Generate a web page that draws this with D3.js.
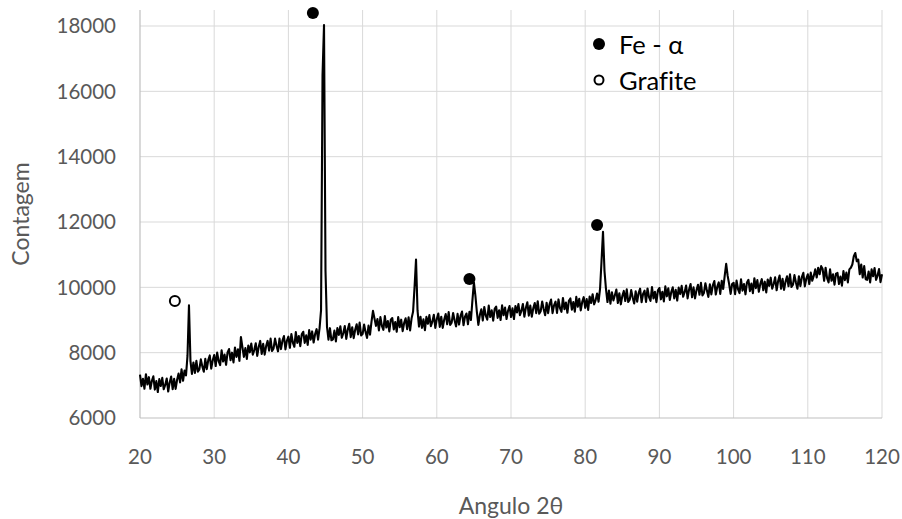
<!DOCTYPE html>
<html>
<head>
<meta charset="utf-8">
<script src="https://cdn.jsdelivr.net/npm/d3@7"></script>
<style>
  html, body { margin: 0; padding: 0; background: #fff; }
  svg { display: block; font-family: Lato, "Open Sans", sans-serif; font-variant-ligatures: none; }
</style>
</head>
<body>
<svg id="chart" width="902" height="519"></svg>
<script>
// ---- data ----
const angleStart = 20;
const angleStep = 0.2;
const counts = [
  7330, 6975, 7200, 6895, 7340, 7025, 7250, 6895, 7140, 7275,
  6870, 7130, 6795, 7190, 6980, 7230, 6880, 7010, 7210, 6810,
  7090, 7270, 6880, 7200, 6890, 7170, 7360, 7090, 7490, 7140,
  7450, 7300, 7900, 9450, 7750, 7350, 7700, 7380, 7750, 7420,
  7490, 7795, 7580, 7415, 7810, 7495, 7770, 7915, 7510, 7765,
  7930, 7590, 8000, 7740, 7620, 8070, 7730, 7940, 7630, 8010,
  8110, 7770, 8000, 7700, 8160, 7870, 8100, 7750, 8480, 8170,
  7870, 8140, 7810, 8220, 8010, 8280, 7940, 8080, 8290, 7900,
  8180, 8360, 7960, 8270, 7940, 8200, 8360, 8060, 8430, 8050,
  8130, 8430, 8210, 8040, 8430, 8110, 8370, 8510, 8100, 8370,
  8490, 8150, 8570, 8310, 8180, 8630, 8300, 8510, 8200, 8560,
  8640, 8300, 8530, 8240, 8690, 8400, 8650, 8310, 8570, 8720,
  8400, 8750, 9300, 16500, 18030, 10500, 8800, 8400, 8750, 8380,
  8410, 8675, 8345, 8750, 8545, 8810, 8455, 8600, 8815, 8420,
  8710, 8885, 8475, 8780, 8445, 8700, 8870, 8560, 8920, 8530,
  8570, 8860, 8630, 8450, 8830, 8550, 8950, 9280, 9050, 8820,
  9030, 8680, 9090, 8820, 8700, 9120, 8770, 8970, 8650, 9010,
  9060, 8710, 8940, 8640, 9090, 8780, 9010, 8660, 8910, 9050,
  8720, 9080, 8680, 9050, 9250, 10000, 10850, 9300, 8800, 9100,
  8760, 9020, 8690, 9095, 8885, 9150, 8810, 8950, 9160, 8760,
  9030, 9200, 8790, 9100, 8760, 9015, 9180, 8870, 9240, 8850,
  8920, 9215, 8985, 8805, 9190, 8860, 9125, 9260, 8840, 9100,
  9200, 8870, 9250, 9000, 9600, 10150, 9750, 9250, 8850, 9150,
  9330, 8985, 9400, 9130, 9010, 9440, 9090, 9295, 8980, 9340,
  9410, 9065, 9300, 9000, 9450, 9145, 9380, 9030, 9285, 9430,
  9090, 9355, 9030, 9430, 9230, 9485, 9150, 9280, 9490, 9100,
  9370, 9545, 9135, 9440, 9100, 9355, 9520, 9210, 9575, 9190,
  9270, 9565, 9340, 9145, 9530, 9210, 9490, 9625, 9210, 9450,
  9560, 9215, 9630, 9365, 9250, 9675, 9330, 9535, 9220, 9585,
  9660, 9315, 9550, 9255, 9710, 9405, 9650, 9295, 9555, 9700,
  9370, 9640, 9310, 9720, 9520, 9790, 9480, 9600, 9810, 9560,
  9950, 10800, 11700, 10500, 9950, 9550, 9900, 9500, 9850, 9600,
  9760, 9930, 9520, 9820, 9480, 9730, 9890, 9580, 9940, 9550,
  9620, 9915, 9690, 9505, 9880, 9560, 9825, 9960, 9545, 9795,
  9900, 9553, 9966, 9700, 9583, 10006, 9660, 9863, 9546, 9910,
  9980, 9633, 9866, 9570, 10030, 9725, 9970, 9613, 9856, 10000,
  9660, 9923, 9596, 9990, 9793, 10046, 9710, 9853, 10056, 9660,
  9930, 10103, 9696, 10000, 9663, 9915, 10080, 9773, 10136, 9750,
  9830, 10125, 9900, 9705, 10090, 9785, 10060, 10195, 9780, 10020,
  10150, 9800, 10200, 9950, 10350, 10720, 10350, 10100, 9800, 10100,
  10140, 9793, 10206, 9940, 9823, 10246, 9900, 10103, 9786, 10150,
  10230, 9883, 10116, 9820, 10280, 9975, 10220, 9863, 10106, 10250,
  9910, 10173, 9846, 10240, 10043, 10296, 9960, 10103, 10306, 9910,
  10190, 10363, 9956, 10260, 9923, 10175, 10340, 10033, 10396, 10010,
  10080, 10375, 10150, 9955, 10340, 10035, 10310, 10445, 10030, 10270,
  10400, 10100, 10450, 10200, 10350, 10550, 10300, 10600, 10400, 10650,
  10560, 10200, 10600, 10280, 10150, 10550, 10200, 10400, 10080, 10420,
  10440, 10100, 10330, 10050, 10500, 10220, 10450, 10150, 10550, 10600,
  10700, 10950, 11050, 10800, 10850, 10400, 10700, 10300, 10650, 10250,
  10230, 10485, 10150, 10550, 10340, 10590, 10230, 10360, 10560, 10160,
  10400
];
const xTicks = [20, 30, 40, 50, 60, 70, 80, 90, 100, 110, 120];
const yTicks = [6000, 8000, 10000, 12000, 14000, 16000, 18000];
// phase annotation markers [angle, count]
const feMarkers = [[43.3, 18400], [64.4, 10255], [81.6, 11907]];
const grafiteMarkers = [[24.7, 9580]];
const legendItems = ["Fe - α", "Grafite"];
const xTitle = "Angulo 2θ";
const yTitle = "Contagem";

// ---- drawing ----
const svg = d3.select("#chart");
const L = 140, R = 882, T = 10;
const x = d3.scaleLinear().domain([20, 120]).range([L, R]);
const y = d3.scaleLinear().domain([6000, 18000]).range([418, 26]);
const B = y(6000);

const data = counts.map((c, i) => [angleStart + i * angleStep, c]);

// gridlines
const g = svg.append("g");
g.selectAll("line.h").data(yTicks.filter(t => t > 6000)).join("line")
  .attr("x1", L).attr("x2", R)
  .attr("y1", d => y(d)).attr("y2", d => y(d))
  .attr("stroke", "#d9d9d9").attr("stroke-width", 1);
g.selectAll("line.v").data(xTicks.filter(t => t > 20)).join("line")
  .attr("x1", d => x(d)).attr("x2", d => x(d))
  .attr("y1", T).attr("y2", B)
  .attr("stroke", "#d9d9d9").attr("stroke-width", 1);

// axes lines
svg.append("line").attr("x1", L).attr("x2", L).attr("y1", T).attr("y2", B)
  .attr("stroke", "#bfbfbf").attr("stroke-width", 1.2);
svg.append("line").attr("x1", L).attr("x2", R).attr("y1", B).attr("y2", B)
  .attr("stroke", "#bfbfbf").attr("stroke-width", 1.2);

// tick labels
svg.append("g").selectAll("text").data(yTicks).join("text")
  .attr("x", 116).attr("y", d => y(d)).attr("dy", "0.35em")
  .attr("text-anchor", "end").attr("fill", "#595959").attr("font-size", 20.5)
  .text(d => d);
svg.append("g").selectAll("text").data(xTicks).join("text")
  .attr("x", d => x(d)).attr("y", 457).attr("dy", "0.35em")
  .attr("text-anchor", "middle").attr("fill", "#595959").attr("font-size", 20.5)
  .text(d => d);

// axis titles
svg.append("text").attr("x", (L + R) / 2).attr("y", 506).attr("dy", "0.35em")
  .attr("text-anchor", "middle").attr("fill", "#595959").attr("font-size", 23)
  .text(xTitle);
svg.append("text").attr("transform", `translate(21,${(T + B) / 2}) rotate(-90)`)
  .attr("dy", "0.35em").attr("text-anchor", "middle").attr("fill", "#595959")
  .attr("font-size", 23).text(yTitle);

// data line
svg.append("path").datum(data)
  .attr("fill", "none").attr("stroke", "#000").attr("stroke-width", 2.1)
  .attr("stroke-linejoin", "round")
  .attr("d", d3.line().x(d => x(d[0])).y(d => y(d[1])));

// phase markers
svg.append("g").selectAll("circle").data(feMarkers).join("circle")
  .attr("cx", d => x(d[0])).attr("cy", d => y(d[1])).attr("r", 6).attr("fill", "#000");
svg.append("g").selectAll("circle").data(grafiteMarkers).join("circle")
  .attr("cx", d => x(d[0])).attr("cy", d => y(d[1])).attr("r", 5)
  .attr("fill", "#fff").attr("stroke", "#000").attr("stroke-width", 2);

// legend
const lg = svg.append("g");
lg.append("circle").attr("cx", 599).attr("cy", 44).attr("r", 6).attr("fill", "#000");
lg.append("circle").attr("cx", 599).attr("cy", 80).attr("r", 4.5)
  .attr("fill", "#fff").attr("stroke", "#000").attr("stroke-width", 2);
lg.selectAll("text").data(legendItems).join("text")
  .attr("x", 619).attr("y", (d, i) => 45 + i * 36).attr("dy", "0.35em")
  .attr("fill", "#000").attr("font-size", 25.5).text(d => d);
</script>
</body>
</html>
